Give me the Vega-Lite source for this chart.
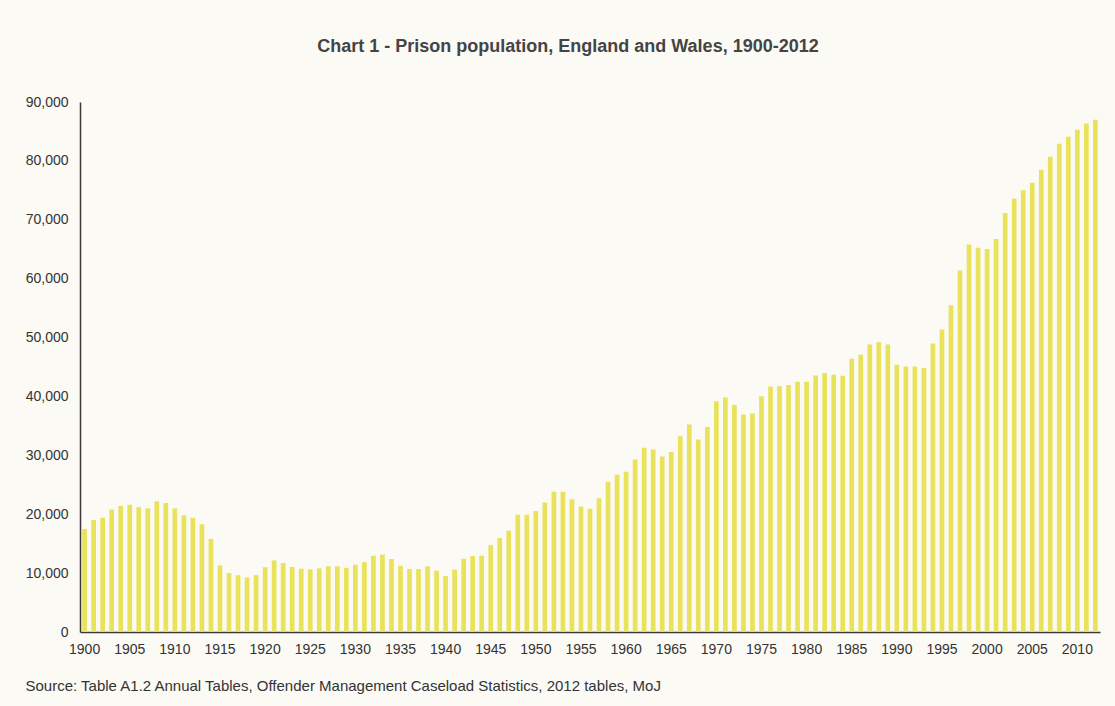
{
  "$schema": "https://vega.github.io/schema/vega-lite/v6.json",
  "width": 1020,
  "height": 530,
  "autosize": {"type": "none"},
  "padding": {"left": 80, "top": 102, "right": 15, "bottom": 74},
  "background": "#fbfaf5",
  "config": {
    "view": {"stroke": null},
    "font": "Liberation Sans"
  },
  "title": {
    "text": "Chart 1 - Prison population, England and Wales, 1900-2012",
    "anchor": "middle",
    "offset": 39,
    "dx": -22,
    "fontSize": 18,
    "fontWeight": "bold",
    "color": "#444444",
    "font": "Liberation Sans"
  },
  "data": {
    "values": [
      {"year": 1900, "population": 17500}, {"year": 1901, "population": 19000}, {"year": 1902, "population": 19400},
      {"year": 1903, "population": 20800}, {"year": 1904, "population": 21400}, {"year": 1905, "population": 21600},
      {"year": 1906, "population": 21200}, {"year": 1907, "population": 21000}, {"year": 1908, "population": 22200},
      {"year": 1909, "population": 21900}, {"year": 1910, "population": 21000}, {"year": 1911, "population": 19800},
      {"year": 1912, "population": 19400}, {"year": 1913, "population": 18300}, {"year": 1914, "population": 15800},
      {"year": 1915, "population": 11300}, {"year": 1916, "population": 10000}, {"year": 1917, "population": 9650},
      {"year": 1918, "population": 9250}, {"year": 1919, "population": 9650}, {"year": 1920, "population": 11000},
      {"year": 1921, "population": 12150}, {"year": 1922, "population": 11700}, {"year": 1923, "population": 11050},
      {"year": 1924, "population": 10750}, {"year": 1925, "population": 10650}, {"year": 1926, "population": 10800},
      {"year": 1927, "population": 11150}, {"year": 1928, "population": 11150}, {"year": 1929, "population": 10900},
      {"year": 1930, "population": 11400}, {"year": 1931, "population": 11850}, {"year": 1932, "population": 12950},
      {"year": 1933, "population": 13150}, {"year": 1934, "population": 12400}, {"year": 1935, "population": 11250},
      {"year": 1936, "population": 10700}, {"year": 1937, "population": 10700}, {"year": 1938, "population": 11150},
      {"year": 1939, "population": 10400}, {"year": 1940, "population": 9500}, {"year": 1941, "population": 10600},
      {"year": 1942, "population": 12450}, {"year": 1943, "population": 12900}, {"year": 1944, "population": 12950},
      {"year": 1945, "population": 14750}, {"year": 1946, "population": 15950}, {"year": 1947, "population": 17200},
      {"year": 1948, "population": 19900}, {"year": 1949, "population": 19900}, {"year": 1950, "population": 20550},
      {"year": 1951, "population": 22000}, {"year": 1952, "population": 23800}, {"year": 1953, "population": 23800},
      {"year": 1954, "population": 22550}, {"year": 1955, "population": 21300}, {"year": 1956, "population": 20950},
      {"year": 1957, "population": 22700}, {"year": 1958, "population": 25500}, {"year": 1959, "population": 26700},
      {"year": 1960, "population": 27200}, {"year": 1961, "population": 29300}, {"year": 1962, "population": 31300},
      {"year": 1963, "population": 31000}, {"year": 1964, "population": 29800}, {"year": 1965, "population": 30550},
      {"year": 1966, "population": 33250}, {"year": 1967, "population": 35250}, {"year": 1968, "population": 32700},
      {"year": 1969, "population": 34800}, {"year": 1970, "population": 39200}, {"year": 1971, "population": 39800},
      {"year": 1972, "population": 38550}, {"year": 1973, "population": 36950}, {"year": 1974, "population": 37100},
      {"year": 1975, "population": 40050}, {"year": 1976, "population": 41700}, {"year": 1977, "population": 41750},
      {"year": 1978, "population": 41950}, {"year": 1979, "population": 42500}, {"year": 1980, "population": 42500},
      {"year": 1981, "population": 43550}, {"year": 1982, "population": 44000}, {"year": 1983, "population": 43700},
      {"year": 1984, "population": 43500}, {"year": 1985, "population": 46400}, {"year": 1986, "population": 47100},
      {"year": 1987, "population": 48800}, {"year": 1988, "population": 49200}, {"year": 1989, "population": 48800},
      {"year": 1990, "population": 45400}, {"year": 1991, "population": 45100}, {"year": 1992, "population": 45100},
      {"year": 1993, "population": 44850}, {"year": 1994, "population": 49000}, {"year": 1995, "population": 51350},
      {"year": 1996, "population": 55500}, {"year": 1997, "population": 61400}, {"year": 1998, "population": 65800},
      {"year": 1999, "population": 65250}, {"year": 2000, "population": 65050}, {"year": 2001, "population": 66750},
      {"year": 2002, "population": 71150}, {"year": 2003, "population": 73550}, {"year": 2004, "population": 75000},
      {"year": 2005, "population": 76300}, {"year": 2006, "population": 78500}, {"year": 2007, "population": 80700},
      {"year": 2008, "population": 82900}, {"year": 2009, "population": 84100}, {"year": 2010, "population": 85300},
      {"year": 2011, "population": 86350}, {"year": 2012, "population": 87000}
    ]
  },
  "mark": {"type": "bar", "color": "#e9e25a"},
  "encoding": {
    "x": {
      "field": "year",
      "type": "ordinal",
      "scale": {"paddingInner": 0.48, "paddingOuter": 0.25},
      "axis": {
        "values": [1900, 1905, 1910, 1915, 1920, 1925, 1930, 1935, 1940, 1945, 1950, 1955, 1960, 1965, 1970, 1975, 1980, 1985, 1990, 1995, 2000, 2005, 2010],
        "labelAngle": 0,
        "ticks": false,
        "labelPadding": 10,
        "labelFontSize": 14,
        "labelColor": "#333333",
        "labelFont": "Liberation Sans",
        "domainColor": "#3a3a3a",
        "domainWidth": 1.5,
        "grid": false,
        "title": "Source: Table A1.2 Annual Tables, Offender Management  Caseload Statistics, 2012 tables, MoJ",
        "titleFont": "Liberation Sans",
        "titleFontSize": 15,
        "titleFontWeight": "normal",
        "titleColor": "#333333",
        "titleAnchor": "start",
        "titleAlign": "left",
        "titleBaseline": "alphabetic",
        "titleX": -55,
        "titleY": 58
      }
    },
    "y": {
      "field": "population",
      "type": "quantitative",
      "scale": {"domain": [0, 90000]},
      "axis": {
        "values": [0, 10000, 20000, 30000, 40000, 50000, 60000, 70000, 80000, 90000],
        "format": ",d",
        "ticks": false,
        "grid": false,
        "labelPadding": 12,
        "labelFontSize": 14,
        "labelColor": "#333333",
        "labelFont": "Liberation Sans",
        "domainColor": "#3a3a3a",
        "domainWidth": 1.5,
        "title": null
      }
    }
  }
}
